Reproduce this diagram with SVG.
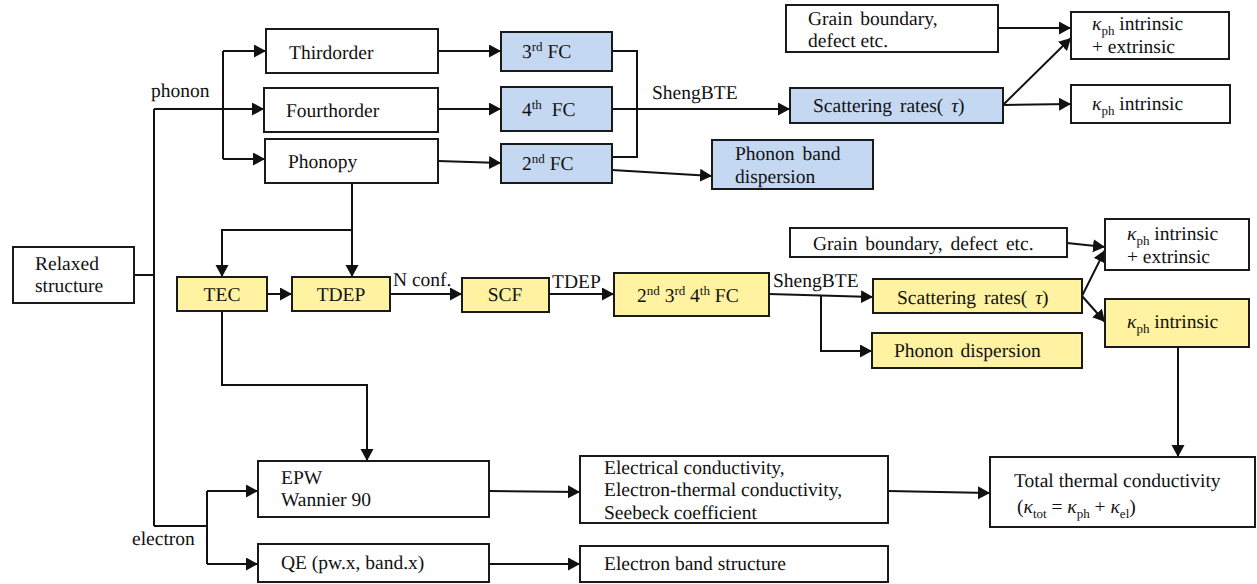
<svg xmlns="http://www.w3.org/2000/svg" width="1257" height="584" viewBox="0 0 1257 584" text-rendering="geometricPrecision">
<defs>
<style>
text{font-family:"Liberation Serif","Times New Roman",serif;font-size:19.5px;fill:#111;font-weight:normal}
.b{fill:#fff;stroke:#1a1a1a;stroke-width:2}
.bl{fill:#c5d8f1;stroke:#1a1a1a;stroke-width:2}
.ye{fill:#fff2a0;stroke:#1a1a1a;stroke-width:2}
.c{fill:none;stroke:#111;stroke-width:2}
.a{marker-end:url(#ah)}
.s{font-size:13px}
.it{font-style:italic}
</style>
<marker id="ah" markerUnits="userSpaceOnUse" markerWidth="13" markerHeight="14" refX="12" refY="6.5" orient="auto">
<path d="M0,0 L12,6.5 L0,13 z" fill="#111"/>
</marker>
</defs>
<rect width="1257" height="584" fill="#fff"/>

<g id="connectors">
<path class="c" d="M134,275 H154"/>
<path class="c" d="M154,109 V526"/>
<path class="c a" d="M154,109 H264"/>
<path class="c" d="M223,51 V159"/>
<path class="c a" d="M223,51 H266"/>
<path class="c a" d="M223,159 H265"/>
<path class="c a" d="M438,51 H501"/>
<path class="c a" d="M438,109 H501"/>
<path class="c a" d="M438,161 L501,163"/>
<path class="c" d="M612,51 H637 V157 H612"/>
<path class="c a" d="M612,109 H790"/>
<path class="c a" d="M612,170 L712,176"/>
<path class="c a" d="M998,28 H1071"/>
<path class="c a" d="M1003,105 L1071,38"/>
<path class="c a" d="M1003,105 L1071,104"/>
<path class="c a" d="M352,183 V277"/>
<path class="c a" d="M352,230 H222 V277"/>
<path class="c a" d="M267,294 H292"/>
<path class="c a" d="M390,294 H462"/>
<path class="c a" d="M549,294 H614"/>
<path class="c a" d="M769,294 L873,297"/>
<path class="c a" d="M821,295 V351 H872"/>
<path class="c a" d="M1067,243 L1105,247"/>
<path class="c a" d="M1082,296 L1105,250"/>
<path class="c a" d="M1082,296 L1105,322"/>
<path class="c a" d="M1178,347 V457"/>
<path class="c a" d="M222,311 V385 H367 V461"/>
<path class="c" d="M154,526 H207"/>
<path class="c" d="M207,491 V564"/>
<path class="c a" d="M207,491 H258"/>
<path class="c a" d="M207,564 H258"/>
<path class="c a" d="M489,491 L580,492"/>
<path class="c a" d="M489,564 H580"/>
<path class="c a" d="M888,491 L990,493"/>
<text x="151" y="97">phonon</text>
<text x="652" y="99">ShengBTE</text>
<text x="393" y="286">N conf.</text>
<text x="552" y="288">TDEP</text>
<text x="773" y="287">ShengBTE</text>
<text x="132" y="545">electron</text>
</g>

<g id="relaxed"><rect class="b" x="13" y="247" width="121" height="56"/><text x="35" y="270">Relaxed</text><text x="35" y="292">structure</text></g>
<g id="thirdorder"><rect class="b" x="266" y="29" width="172" height="44"/><text x="289" y="59">Thirdorder</text></g>
<g id="fourthorder"><rect class="b" x="264" y="88" width="174" height="44"/><text x="286" y="117">Fourthorder</text></g>
<g id="phonopy"><rect class="b" x="265" y="139" width="173" height="44"/><text x="288" y="168">Phonopy</text></g>

<g id="fc3"><rect class="bl" x="501" y="32" width="111" height="39"/><text x="522" y="58">3<tspan class="s" dy="-7">rd</tspan><tspan dy="7"> FC</tspan></text></g>
<g id="fc4"><rect class="bl" x="501" y="87" width="111" height="44"/><text x="522" y="116" xml:space="preserve">4<tspan class="s" dy="-7">th</tspan><tspan dy="7">  FC</tspan></text></g>
<g id="fc2"><rect class="bl" x="501" y="144" width="111" height="39"/><text x="522" y="170">2<tspan class="s" dy="-7">nd</tspan><tspan dy="7"> FC</tspan></text></g>
<g id="phonon-band"><rect class="bl" x="712" y="140" width="161" height="49"/><text x="735" y="160" word-spacing="3">Phonon band</text><text x="735" y="183">dispersion</text></g>
<g id="scattering-top"><rect class="bl" x="790" y="88" width="213" height="35"/><text x="813" y="112" word-spacing="3">Scattering rates( <tspan class="it">τ</tspan>)</text></g>
<g id="grain-top"><rect class="b" x="786" y="5" width="212" height="47"/><text x="808" y="25" word-spacing="3">Grain boundary,</text><text x="808" y="47">defect etc.</text></g>
<g id="kappa-ext-top"><rect class="b" x="1071" y="12" width="158" height="47"/><text x="1092" y="30"><tspan class="it">κ</tspan><tspan class="s" dy="5">ph</tspan><tspan dy="-5"> intrinsic</tspan></text><text x="1092" y="53">+ extrinsic</text></g>
<g id="kappa-int-top"><rect class="b" x="1071" y="85" width="159" height="38"/><text x="1092" y="110"><tspan class="it">κ</tspan><tspan class="s" dy="5">ph</tspan><tspan dy="-5"> intrinsic</tspan></text></g>

<g id="tec"><rect class="ye" x="177" y="277" width="90" height="34"/><text x="222" y="301" text-anchor="middle">TEC</text></g>
<g id="tdep"><rect class="ye" x="292" y="277" width="98" height="34"/><text x="341" y="301" text-anchor="middle">TDEP</text></g>
<g id="scf"><rect class="ye" x="462" y="278" width="87" height="34"/><text x="505" y="301" text-anchor="middle">SCF</text></g>
<g id="fc234"><rect class="ye" x="614" y="273" width="155" height="43"/><text x="637" y="302">2<tspan class="s" dy="-7">nd</tspan><tspan dy="7"> 3</tspan><tspan class="s" dy="-7">rd</tspan><tspan dy="7"> 4</tspan><tspan class="s" dy="-7">th</tspan><tspan dy="7"> FC</tspan></text></g>
<g id="grain-mid"><rect class="b" x="790" y="228" width="277" height="29"/><text x="813" y="250" word-spacing="3">Grain boundary, defect etc.</text></g>
<g id="scattering-mid"><rect class="ye" x="873" y="279" width="209" height="34"/><text x="897" y="304" word-spacing="3">Scattering rates( <tspan class="it">τ</tspan>)</text></g>
<g id="phonon-disp"><rect class="ye" x="872" y="333" width="210" height="35"/><text x="894" y="357" word-spacing="2">Phonon dispersion</text></g>
<g id="kappa-ext-mid"><rect class="b" x="1105" y="219" width="144" height="51"/><text x="1127" y="240"><tspan class="it">κ</tspan><tspan class="s" dy="5">ph</tspan><tspan dy="-5"> intrinsic</tspan></text><text x="1127" y="263">+ extrinsic</text></g>
<g id="kappa-int-mid"><rect class="ye" x="1105" y="299" width="144" height="48"/><text x="1127" y="328"><tspan class="it">κ</tspan><tspan class="s" dy="5">ph</tspan><tspan dy="-5"> intrinsic</tspan></text></g>

<g id="epw"><rect class="b" x="258" y="461" width="231" height="56"/><text x="281" y="484">EPW</text><text x="281" y="506">Wannier 90</text></g>
<g id="qe"><rect class="b" x="258" y="544" width="231" height="38"/><text x="281" y="569">QE (pw.x, band.x)</text></g>
<g id="electrical"><rect class="b" x="580" y="456" width="308" height="67"/><text x="604" y="474">Electrical conductivity,</text><text x="604" y="496">Electron-thermal conductivity,</text><text x="604" y="519">Seebeck coefficient</text></g>
<g id="band-structure"><rect class="b" x="580" y="546" width="308" height="36"/><text x="604" y="570">Electron band structure</text></g>
<g id="total"><rect class="b" x="990" y="457" width="265" height="70"/><text x="1014" y="487">Total thermal conductivity</text><text x="1017" y="513">(<tspan class="it">κ</tspan><tspan class="s" dy="5">tot</tspan><tspan dy="-5"> = </tspan><tspan class="it">κ</tspan><tspan class="s" dy="5">ph</tspan><tspan dy="-5"> + </tspan><tspan class="it">κ</tspan><tspan class="s" dy="5">el</tspan><tspan dy="-5">)</tspan></text></g>
</svg>
